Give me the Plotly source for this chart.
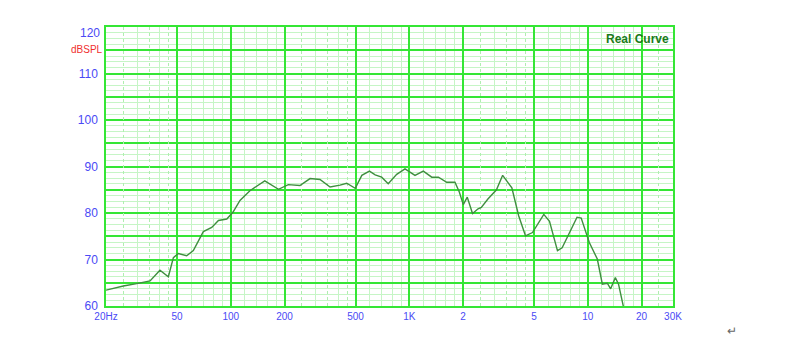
import numpy as np
import plotly.graph_objects as go

# ---- data ----
freq_hz = [20, 25, 29.7, 35.3, 40.1, 44.7, 47.7, 50.8, 56.6, 61.7, 70.2, 78.2, 85.3, 95,
           103, 112.6, 128, 155, 185, 210, 244, 278, 316, 360, 409, 446, 498, 542, 598,
           644, 700, 762, 850, 946, 1076, 1198, 1336, 1456, 1620, 1802, 1906, 2006, 2112,
           2260, 2428, 2532, 2756, 3078, 3334, 3754, 4098, 4476, 4898, 5232, 5668, 6100,
           6760, 7180, 8020, 8700, 9180, 10180, 11300, 12060, 12860, 13420, 14260, 14860,
           15880]
spl_db = [63.4, 64.3, 64.8, 65.4, 67.7, 66.3, 70.4, 71.3, 70.8, 71.9, 76.0, 76.9, 78.4, 78.7,
          80.2, 82.7, 84.8, 86.9, 85.1, 86.1, 85.9, 87.4, 87.2, 85.6, 86.0, 86.4, 85.3, 88.1,
          89.0, 88.2, 87.7, 86.3, 88.3, 89.5, 88.1, 89.0, 87.7, 87.7, 86.6, 86.6, 84.5, 81.8,
          83.4, 79.9, 80.9, 81.2, 83.0, 85.0, 88.1, 85.4, 79.4, 75.1, 75.8, 77.7, 79.7, 78.2,
          71.9, 72.5, 76.2, 79.1, 78.9, 73.7, 70.1, 64.7, 64.9, 63.7, 66.1, 64.7, 59.6]

x_tick_vals = [20, 50, 100, 200, 500, 1000, 2000, 5000, 10000, 20000, 30000]
x_tick_text = ["20Hz", "50", "100", "200", "500", "1K", "2", "5", "10", "20", "30K"]
x_minor_vals = [30, 40, 60, 70, 80, 90, 120, 140, 160, 180, 300, 400,
                600, 700, 800, 900, 1200, 1400, 1600, 1800, 3000, 4000,
                6000, 7000, 8000, 9000, 12000, 14000, 16000, 18000]
x_dot_vals = [25, 35, 45, 250, 350, 450, 2500, 3500, 4500, 25000]
y_tick_vals = [60, 70, 80, 90, 100, 110]
y_grid_vals = [60, 65, 70, 75, 80, 85, 90, 95, 100, 105, 110, 115, 120]
y_minor_vals = [b + s for b in y_grid_vals[:-1] for s in (1.25, 2.5, 3.75)]

MAJOR = "#35e635"
MINOR = "#c6f5c6"
DOT = "#b0eeb0"
BLUE = "#4a4af5"

xr = [np.log10(20), np.log10(30000)]

fig = go.Figure()
fig.add_trace(go.Scatter(x=freq_hz, y=spl_db, mode="lines",
                         line=dict(color="#3f8f3f", width=1.4),
                         hoverinfo="skip", showlegend=False))
# invisible trace on overlay axis for dotted grid
fig.add_trace(go.Scatter(x=[20, 30000], y=[60, 60], xaxis="x2", mode="lines",
                         line=dict(width=0), showlegend=False, hoverinfo="skip"))

fig.update_layout(
    width=800, height=359,
    margin=dict(l=106, r=127, t=27, b=53),
    paper_bgcolor="white", plot_bgcolor="white",
    font=dict(family="Liberation Sans, Arial, sans-serif"),
    xaxis=dict(type="log", range=xr, tickvals=x_tick_vals, ticktext=x_tick_text,
               showgrid=True, gridcolor=MAJOR, gridwidth=1.5,
               showline=True, linecolor=MAJOR, linewidth=1.5, mirror=True,
               ticks="", tickfont=dict(size=10, color=BLUE),
               minor=dict(tickvals=x_minor_vals, showgrid=True, gridcolor=MINOR, gridwidth=1),
               zeroline=False, layer="below traces"),
    xaxis2=dict(type="log", range=xr, overlaying="x", tickvals=x_dot_vals,
                showticklabels=False, showgrid=True, gridcolor=DOT, gridwidth=1,
                griddash="dot", ticks="", zeroline=False, showline=False),
    yaxis=dict(range=[60, 120], tickvals=y_grid_vals,
               ticktext=[str(v) if v in y_tick_vals else "" for v in y_grid_vals],
               showgrid=True, gridcolor=MAJOR, gridwidth=1.5,
               showline=True, linecolor=MAJOR, linewidth=1.5, mirror=True,
               ticks="", tickfont=dict(size=12, color=BLUE), ticklabelstandoff=4,
               minor=dict(tickvals=y_minor_vals, showgrid=True, gridcolor=MINOR, gridwidth=1),
               zeroline=False, layer="below traces"),
    annotations=[
        dict(text="120", xref="paper", yref="y", x=0, y=120, xanchor="right",
             yanchor="middle", xshift=-4, yshift=-6, showarrow=False,
             font=dict(size=12, color=BLUE)),
        dict(text="dBSPL", xref="paper", yref="y", x=0, y=115, xanchor="right",
             yanchor="middle", xshift=-1, yshift=1, showarrow=False,
             font=dict(size=10, color="#f03030")),
        dict(text="<b>Real Curve</b>", xref="paper", yref="paper", x=1, y=1,
             xanchor="right", yanchor="top", xshift=-2, yshift=-3, showarrow=False,
             font=dict(size=12, color="#1a7a1a")),
        dict(text="↵", xref="paper", yref="paper", x=1, y=0, xanchor="left",
             yanchor="top", xshift=52, yshift=-16, showarrow=False,
             font=dict(size=12, color="#666666")),
    ],
)

fig.write_html("out.html")
